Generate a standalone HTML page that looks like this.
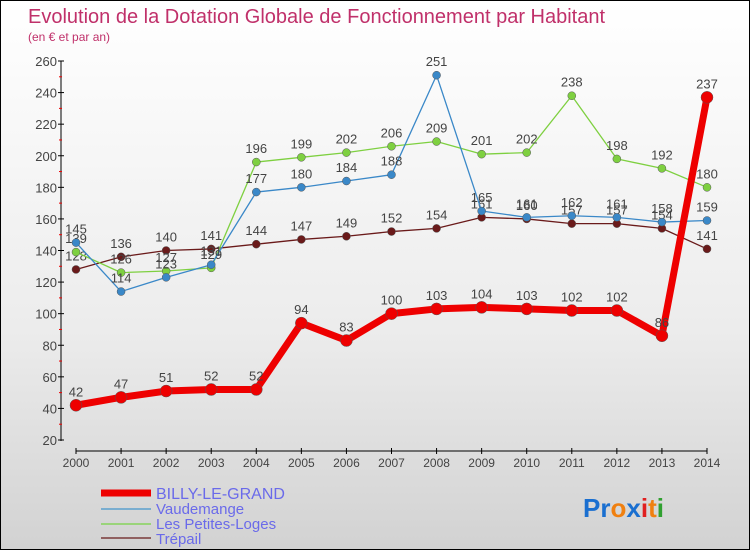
<!DOCTYPE html>
<html><head><meta charset="utf-8"><style>
body{margin:0}
#c{width:750px;height:550px;position:relative;overflow:hidden;box-sizing:border-box;border:1px solid #000;background:linear-gradient(#ffffff 0%,#ececec 60%,#d2d2d2 100%);font-family:"Liberation Sans",sans-serif}
svg{position:absolute;left:0;top:0}
</style></head><body>
<div id="c">
<svg id="s" width="750" height="550">
<text x="27" y="22" font-size="20" fill="#c0306a">Evolution de la Dotation Globale de Fonctionnement par Habitant</text>
<text x="27" y="40" font-size="12" fill="#c0306a">(en € et par an)</text>
<line x1="60" y1="60" x2="60" y2="440" stroke="#000"/>
<line x1="75" y1="450" x2="706" y2="450" stroke="#000"/>
<g id="ticks"></g><g id="series"></g>
<g>
<line x1="100" y1="492" x2="150" y2="492" stroke="#e00" stroke-width="7"/>
<text x="155" y="498" font-size="16" fill="#6a6aea">BILLY-LE-GRAND</text>
<line x1="100" y1="508" x2="150" y2="508" stroke="#7aaed0" stroke-width="2"/>
<text x="155" y="513" font-size="15" fill="#6a6aea">Vaudemange</text>
<line x1="100" y1="523" x2="150" y2="523" stroke="#9ad47a" stroke-width="2"/>
<text x="155" y="528" font-size="15" fill="#6a6aea">Les Petites-Loges</text>
<line x1="100" y1="537" x2="150" y2="537" stroke="#906060" stroke-width="2"/>
<text x="155" y="543" font-size="15" fill="#6a6aea">Trépail</text>
</g>
<text x="582" y="516" font-size="26" font-weight="bold"><tspan fill="#1a6fd0">Pr</tspan><tspan fill="#f08010">o</tspan><tspan fill="#1a6fd0">x</tspan><tspan fill="#e02020">i</tspan><tspan fill="#f08010">t</tspan><tspan fill="#30a030">i</tspan></text>
</svg>
</div>
<script>
const years=[2000,2001,2002,2003,2004,2005,2006,2007,2008,2009,2010,2011,2012,2013,2014];
const yTicks=[20,40,60,80,100,120,140,160,180,200,220,240,260];
const billy=[42,47,51,52,52,94,83,100,103,104,103,102,102,86,237];
const vaudemange=[145,114,123,131,177,180,184,188,251,165,161,162,161,158,159];
const petitesLoges=[139,126,127,129,196,199,202,206,209,201,202,238,198,192,180];
const trepail=[128,136,140,141,144,147,149,152,154,161,160,157,157,154,141];
const NS="http://www.w3.org/2000/svg";
function xs(i){return 75+i*(706-75)/(years.length-1);}
function ys(v){return 439-(v-20)*(379/240);}
function mk(t,a,p){const e=document.createElementNS(NS,t);for(const k in a)e.setAttribute(k,a[k]);p.appendChild(e);return e;}
const tg=document.getElementById('ticks');
yTicks.forEach((v,i)=>{
 const l=mk('line',{x1:57,x2:63,y1:ys(v),y2:ys(v),stroke:'#000'},tg);
 
 
 const t=mk('text',{x:56,y:ys(v)+5,'font-size':13,'text-anchor':'end',fill:'#444'},tg);
 
 
 t.textContent=v;
 if(i<yTicks.length-1){const m=mk('line',{x1:58,x2:61,y1:ys(v+10),y2:ys(v+10),stroke:'#e00'},tg);
 
 }
});
years.forEach((y,i)=>{
 const l=mk('line',{x1:xs(i),x2:xs(i),y1:447,y2:453,stroke:'#000'},tg);
 
 
 const t=mk('text',{x:xs(i),y:466,'font-size':12,'text-anchor':'middle',fill:'#444'},tg);
 
 
 t.textContent=y;
});
const sg=document.getElementById('series');
function draw(data,name,color,lw,r){
 const g=mk('g',{},sg);
 
 
 const p=mk('polyline',{points:data.map((v,i)=>xs(i)+','+ys(v)).join(' '),fill:'none',stroke:color,'stroke-width':lw,'stroke-linejoin':'round'},g);
 
 
 data.forEach((v,i)=>{
  const c=mk('circle',{cx:xs(i),cy:ys(v),r:r,fill:color,stroke:'#555','stroke-width':0.5},g);
  
  
  const t=mk('text',{x:xs(i),y:ys(v)-9,'font-size':13,'text-anchor':'middle',fill:'#444'},g);
  
  
  t.textContent=v;
 });
}
draw(trepail,'trepail','#6a1a1a',1.3,4);
draw(petitesLoges,'petites-loges','#7ed040',1.3,4);
draw(vaudemange,'vaudemange','#3a88c8',1.3,4);
draw(billy,'billy','#ee0000',7,6);
</script>
</body></html>
